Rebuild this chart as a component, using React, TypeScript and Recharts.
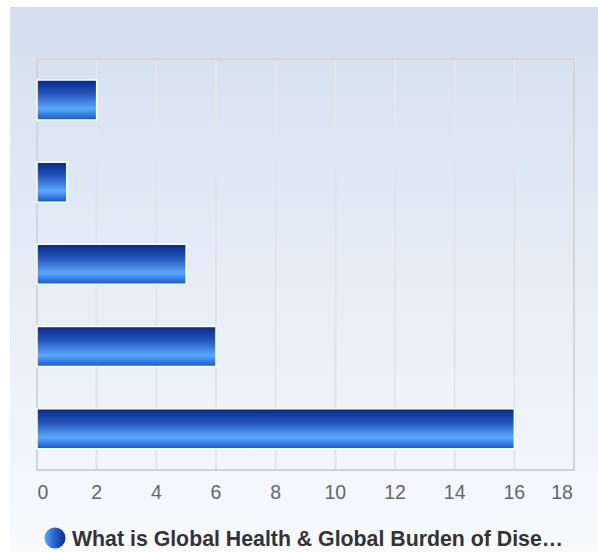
import { BarChart, Bar, XAxis, YAxis, CartesianGrid, ReferenceArea } from 'recharts';

const categories = ['Topic 1', 'Topic 2', 'Topic 3', 'Topic 4', 'Topic 5'];
const values = [2, 1, 5, 6, 16];
const xTicks = [0, 2, 4, 6, 8, 10, 12, 14, 16, 18];
const seriesName = 'What is Global Health & Global Burden of Dise…';

const data = categories.map((name, i) => ({ name, value: values[i] }));

// first and last tick labels sit a little inside the plot edges
const Tick = (props: any) => {
  const { x, y, payload, index } = props;
  let dx = 0;
  if (index === 0) dx = 6;
  if (index === xTicks.length - 1) dx = -12;
  return (
    <text x={x + dx} y={y} dy={21} textAnchor="middle" fill="#666" fontSize={19.5} fontFamily="Liberation Sans, Arial, sans-serif">
      {payload.value}
    </text>
  );
};

export default function App() {
  return (
    <div style={{ position: 'absolute', left: 0, top: 0, width: 598, height: 552, background: '#fff', overflow: 'hidden' }}>
      <div
        style={{
          position: 'absolute',
          left: 10,
          top: 7,
          width: 588,
          height: 545,
          background: 'linear-gradient(to bottom, #d3dfef 0%, #e6edf7 50%, #f8fafd 100%)',
        }}
      />
      <div style={{ position: 'absolute', left: 0, top: 0 }}>
        <BarChart
          layout="vertical"
          width={598}
          height={552}
          data={data}
          margin={{ top: 59, right: 24, left: 37, bottom: 42 }}
          barCategoryGap="25.5%"
        >
          <defs>
            <linearGradient id="barFill" x1="0" y1="0" x2="0" y2="1">
              <stop offset="0%" stopColor="#06298a" />
              <stop offset="35%" stopColor="#2457bd" />
              <stop offset="72%" stopColor="#5ba8ff" />
              <stop offset="100%" stopColor="#1556c9" />
            </linearGradient>
          </defs>
          <CartesianGrid horizontal={false} stroke="#e1e5ec" strokeWidth={2} />
          <ReferenceArea x1={0} x2={18} fill="none" stroke="#d2d5da" strokeWidth={2} ifOverflow="visible" />
          <XAxis
            type="number"
            domain={[0, 18]}
            ticks={xTicks}
            interval={0}
            tick={<Tick />}
            tickLine={false}
            axisLine={{ stroke: '#cfd2d8', strokeWidth: 2 }}
            height={40}
          />
          <YAxis
            type="category"
            dataKey="name"
            width={0}
            tick={false}
            tickLine={false}
            axisLine={{ stroke: '#c8d1e4', strokeWidth: 2 }}
          />
          <Bar dataKey="value" fill="url(#barFill)" stroke="#ffffff" strokeWidth={1.5} isAnimationActive={false} />
        </BarChart>
      </div>
      <svg style={{ position: 'absolute', left: 0, top: 0 }} width={598} height={552}>
        <defs>
          <linearGradient id="legFill" x1="0" y1="0" x2="1" y2="0">
            <stop offset="0%" stopColor="#5ba8ff" />
            <stop offset="45%" stopColor="#2a66d0" />
            <stop offset="100%" stopColor="#082c8c" />
          </linearGradient>
        </defs>
        <circle cx={55} cy={538} r={10.5} fill="url(#legFill)" />
        <text x={72} y={546} fontSize={21.3} fontWeight="bold" fill="#333" fontFamily="Liberation Sans, Arial, sans-serif">
          {seriesName}
        </text>
      </svg>
    </div>
  );
}
